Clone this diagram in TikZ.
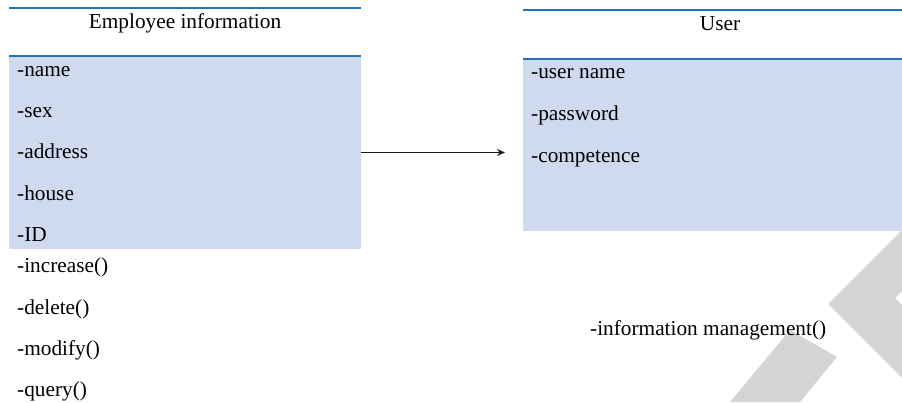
\documentclass[tikz,border=0pt]{standalone}
\usepackage{fontspec}
\setmainfont{Liberation Serif}
\usepackage{tikz}
\usetikzlibrary{arrows.meta}
\usetikzlibrary{positioning}
\definecolor{umlblue}{RGB}{38,113,187}
\definecolor{umlfill}{RGB}{208,218,238}
\definecolor{markgray}{RGB}{212,212,212}
\tikzstyle{arrow} = [line width=1.8pt,draw=black!90,-{Stealth[length=8pt,width=7pt]}]
\tikzset{bar/.style={draw=umlblue, line width=2pt}}
\tikzset{headbox/.style={anchor=north west, inner sep=0pt, outer sep=0pt, minimum height=48pt}}
\tikzset{attrbox/.style={fill=umlfill, anchor=north west, inner sep=0pt, outer sep=0pt}}
\tikzset{item/.style={anchor=base west, inner sep=0pt}}
\tikzset{title/.style={anchor=base, inner sep=0pt}}

\begin{document}
\begin{tikzpicture}[x=1pt,y=-1pt,every node/.style={font=\fontsize{21.3}{25}\selectfont}]
\useasboundingbox (0,0) rectangle (902,402);

% grey mark in the corner
\fill[markgray] (828,304) -- (902,230) -- (902,291) -- (895,298) -- (902,305) -- (902,378) -- cycle;
\fill[markgray] (790,330) -- (837,357) -- (800,402) -- (730,402) -- cycle;

% Employee information
\node[headbox, minimum width=352pt] (emphead) at (9,8) {};
\node[attrbox, minimum width=352pt, minimum height=193pt] (empattr) at (emphead.south west) {};
\draw[bar] (emphead.north west) -- (emphead.north east);
\draw[bar] (emphead.south west) -- (emphead.south east);
\node[title] (emptitle) at (185,28) {Employee information};
\node[item] (name) at (17,76) {-name};
\node[item] (sex) at (17,117) {-sex};
\node[item] (address) at (17,158) {-address};
\node[item] (house) at (17,200) {-house};
\node[item] (id) at (17,241.5) {-ID};
\node[item] (increase) at (17,272) {-increase()};
\node[item] (delete) at (17,314) {-delete()};
\node[item] (modify) at (17,355) {-modify()};
\node[item] (query) at (17,396) {-query()};

% User
\node[headbox, minimum width=379pt, minimum height=49pt] (userhead) at (523,10) {};
\node[attrbox, minimum width=379pt, minimum height=172pt] (userattr) at (userhead.south west) {};
\draw[bar] (userhead.north west) -- (userhead.north east);
\draw[bar] (userhead.south west) -- (userhead.south east);
\node[title] (usertitle) at (720,30) {User};
\node[item] (username) at (531,78) {-user name};
\node[item] (password) at (531,120) {-password};
\node[item] (competence) at (531,162) {-competence};
\node[item] (infoman) at (590,335) {-information management()};

\coordinate (tip) at (505,0);
\draw[arrow] (empattr.east) -- (tip |- empattr.east);
\end{tikzpicture}
\end{document}
